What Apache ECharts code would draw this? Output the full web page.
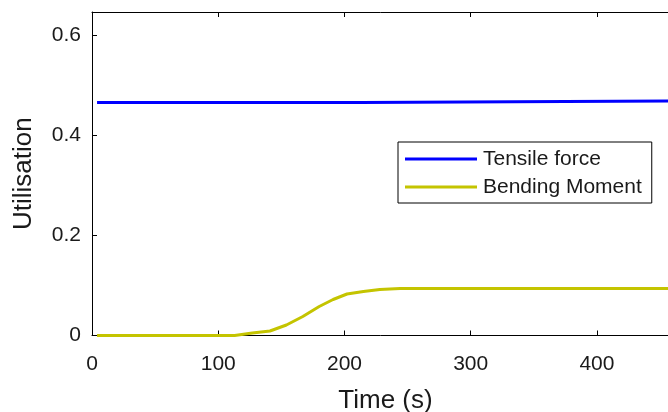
<!DOCTYPE html>
<html>
<head>
<meta charset="utf-8">
<script src="https://cdn.jsdelivr.net/npm/echarts@6/dist/echarts.min.js"></script>
<style>html,body{margin:0;padding:0;background:#fff;}#c{width:668px;height:412px;}</style>
</head>
<body>
<div id="c"></div>
<script>
const seriesNames = ['Tensile force', 'Bending Moment'];
const tensileTime = [4, 213, 213, 465];
const tensileValue = [0.466, 0.466, 0.469, 0.469];
const bendingTime = [4, 113, 113, 127, 141, 154, 167, 180, 191, 202, 215, 228, 244, 260, 465];
const bendingValue = [0, 0, 0.004, 0.005, 0.009, 0.021, 0.038, 0.058, 0.072, 0.083, 0.088, 0.092, 0.094, 0.094, 0.094];
const xTicks = [0, 100, 200, 300, 400];
const yTicks = [0, 0.2, 0.4, 0.6];

const FONT = '"Liberation Sans", Arial, sans-serif';
const TXT = '#1a1a1a';
const BLUE = '#0000ff';
const YELLOW = '#c4c400';
const pair = (t, v) => t.map((x, i) => [x, v[i]]);

const chart = echarts.init(document.getElementById('c'), null, {renderer: 'canvas'});
const axisCommon = {
  axisLine: {show: true, lineStyle: {color: '#000', width: 1}},
  axisTick: {show: true, inside: true, length: 5, lineStyle: {color: '#000', width: 1}},
  splitLine: {show: false}
};
chart.setOption({
  animation: false,
  backgroundColor: '#fff',
  grid: {left: 92, top: 12, right: -11, bottom: 76.5, containLabel: false, outerBoundsMode: 'none'},
  legend: {
    data: [
      {name: seriesNames[0], icon: 'rect', itemStyle: {color: BLUE}},
      {name: seriesNames[1], icon: 'rect', itemStyle: {color: YELLOW}}
    ],
    orient: 'vertical',
    left: 398, top: 142,
    padding: [6.5, 10, 5.5, 7],
    itemWidth: 72, itemHeight: 3, itemGap: 7,
    backgroundColor: '#fff',
    borderColor: '#000', borderWidth: 1, borderRadius: 0,
    textStyle: {fontFamily: FONT, fontSize: 21, color: TXT, padding: [0, 0, 0, 1]}
  },
  xAxis: [
    Object.assign({
      type: 'value', min: 0, max: 465, interval: 100, position: 'bottom',
      name: 'Time (s)', nameLocation: 'middle', nameGap: 52,
      nameTextStyle: {fontFamily: FONT, fontSize: 26, color: TXT},
      axisLabel: {fontFamily: FONT, fontSize: 21, color: TXT, margin: 18, showMaxLabel: false,
        formatter: v => xTicks.includes(v) ? String(v) : ''}
    }, axisCommon),
    Object.assign({
      type: 'value', min: 0, max: 465, interval: 100, position: 'top',
      axisLabel: {show: false}
    }, axisCommon)
  ],
  yAxis: [
    Object.assign({
      type: 'value', min: 0, max: 0.647, interval: 0.2,
      name: 'Utilisation', nameLocation: 'middle', nameGap: 55,
      nameTextStyle: {fontFamily: FONT, fontSize: 26, color: TXT},
      axisLabel: {fontFamily: FONT, fontSize: 21, color: TXT, margin: 11, showMaxLabel: false,
        formatter: v => { const r = Math.round(v * 10) / 10; return yTicks.some(t => Math.abs(t - v) < 1e-9) ? (r === 0 ? '0' : String(r)) : ''; }}
    }, axisCommon)
  ],
  series: [
    {name: seriesNames[0], type: 'line', data: pair(tensileTime, tensileValue), showSymbol: false, symbol: 'none',
     lineStyle: {color: BLUE, width: 3}, itemStyle: {color: BLUE}},
    {name: seriesNames[1], type: 'line', data: pair(bendingTime, bendingValue), showSymbol: false, symbol: 'none',
     lineStyle: {color: YELLOW, width: 3}, itemStyle: {color: YELLOW}}
  ]
});
</script>
</body>
</html>
